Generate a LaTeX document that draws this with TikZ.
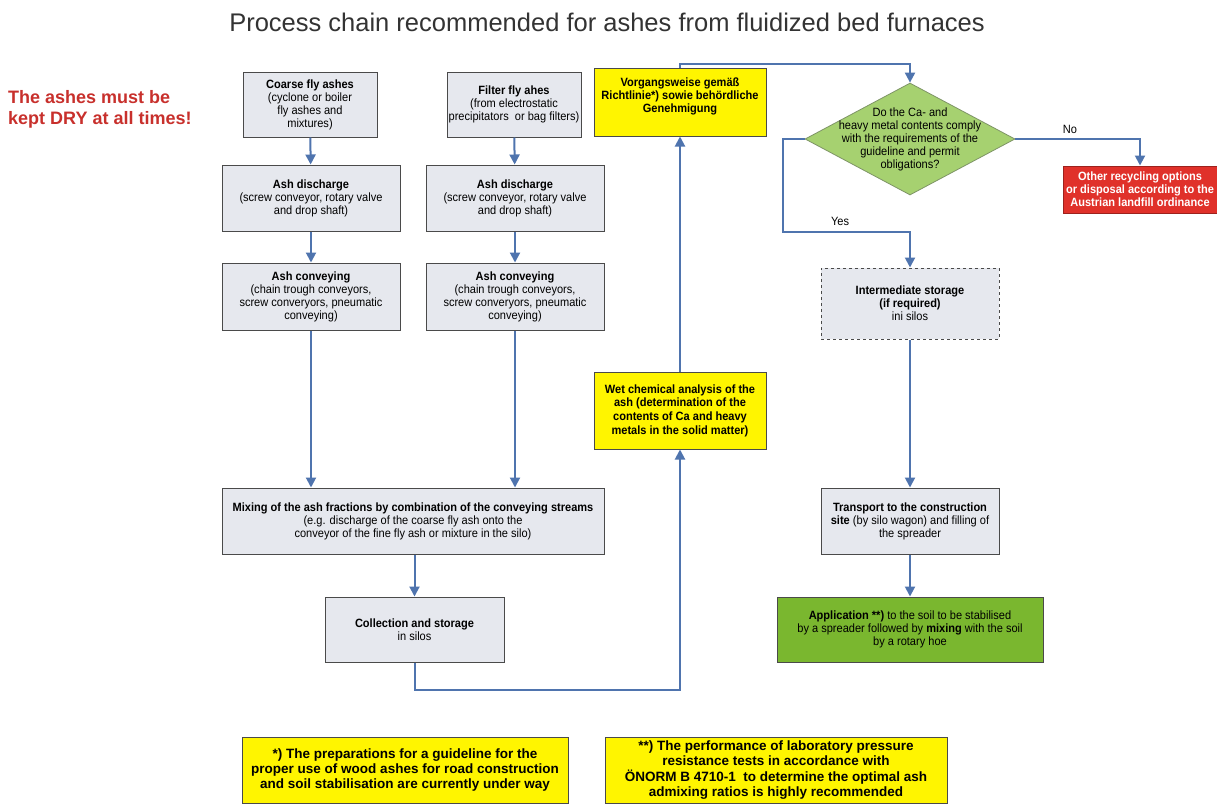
\documentclass[tikz,border=0pt]{standalone}
\usepackage{fontspec}
\setmainfont{Liberation Sans}
\newfontfamily\nar[FakeStretch=0.92]{Liberation Sans}
\usetikzlibrary{arrows.meta,shapes.geometric}
\definecolor{boxfill}{HTML}{E6E8EE}
\definecolor{boxline}{HTML}{4A4A4A}
\definecolor{arrowc}{HTML}{4F74AE}
\definecolor{yel}{HTML}{FFF500}
\definecolor{diag}{HTML}{A6D170}
\definecolor{diaglinec}{HTML}{7E9466}
\definecolor{redbox}{HTML}{E0312A}
\definecolor{redtxt}{HTML}{C8302C}
\definecolor{grnbox}{HTML}{7AB72F}
\definecolor{titlec}{HTML}{333333}
\tikzset{
  procbox/.style={draw=boxline, line width=1pt, fill=boxfill, inner sep=1pt, align=center,
    font=\nar\fontsize{12}{13}\selectfont, text=black},
  yelbox/.style={procbox, fill=yel, draw=boxline},
  arr/.style={draw=arrowc, line width=2pt, -{Triangle[width=10pt,length=10pt]}},
  lbl/.style={font=\nar\fontsize{12}{13}\selectfont, text=black},
  footbox/.style={yelbox, font=\bfseries\fontsize{13.5}{15.2}\selectfont, minimum height=66pt}
}
\begin{document}
\begin{tikzpicture}[x=1pt,y=-1pt]
\useasboundingbox[fill=white] (0,0) rectangle (1217,811);
% title
\node[font=\fontsize{25.5}{29}\selectfont, text=titlec] (title) at (607,22) {Process chain recommended for ashes from fluidized bed furnaces};
% warning
\node[font=\bfseries\fontsize{18}{21}\selectfont, text=redtxt, align=left, anchor=north west, inner sep=0pt] (warn) at (8,90) {The ashes must be\\kept DRY at all times!};
% left column
\node[procbox, minimum width=134pt, minimum height=65pt] (coarse) at (310,104.5) {\textbf{Coarse fly ashes}\\(cyclone or boiler\\fly ashes and\\mixtures)};
\node[procbox, minimum width=134pt, minimum height=65pt] (filter) at (514,104.5) {\textbf{Filter fly ahes}\\(from electrostatic\\precipitators\ \ or bag filters)};
\node[procbox, minimum width=178pt, minimum height=66pt] (dis1) at (311,198) {\textbf{Ash discharge}\\(screw conveyor, rotary valve\\and drop shaft)};
\node[procbox, minimum width=178pt, minimum height=66pt] (dis2) at (515,198) {\textbf{Ash discharge}\\(screw conveyor, rotary valve\\and drop shaft)};
\node[procbox, minimum width=178pt, minimum height=67pt] (con1) at (311,296.5) {\textbf{Ash conveying}\\(chain trough conveyors,\\screw converyors, pneumatic\\conveying)};
\node[procbox, minimum width=178pt, minimum height=67pt] (con2) at (515,296.5) {\textbf{Ash conveying}\\(chain trough conveyors,\\screw converyors, pneumatic\\conveying)};
\node[procbox, minimum width=382pt, minimum height=66pt] (mix) at (413,521) {\textbf{Mixing of the ash fractions by combination of the conveying streams}\\(e.g. discharge of the coarse fly ash onto the\\conveyor of the fine fly ash or mixture in the silo)};
\node[procbox, minimum width=179pt, minimum height=65pt] (coll) at (414.5,629.5) {\textbf{Collection and storage}\\in silos};
% middle column
\node[yelbox, font=\nar\fontsize{12}{13.7}\selectfont, minimum width=172pt, minimum height=77pt] (wet) at (680,410.5) {\textbf{Wet chemical analysis of the}\\\textbf{ash (determination of the}\\\textbf{contents of Ca and heavy}\\\textbf{metals in the solid matter)}};
\node[yelbox, minimum width=172pt, minimum height=68pt, text depth=13pt] (vorg) at (680,102) {\textbf{Vorgangsweise gemäß}\\\textbf{Richtlinie*) sowie behördliche}\\\textbf{Genehmigung}};
% right column
\node[diamond, draw=diaglinec, line width=0.8pt, fill=diag, minimum width=210pt, minimum height=112pt, inner sep=0pt] (dia) at (910,139) {};
\node[lbl, align=center] (diatext) at (910,139) {Do the Ca- and\\heavy metal contents comply\\with the requirements of the\\guideline and permit\\obligations?};
\node[procbox, fill=redbox, draw=redbox!70!black, text=white, minimum width=154pt, minimum height=47pt, inner sep=0pt] (red) at (1140,189.5) {\textbf{Other recycling options}\\\textbf{or disposal according to the}\\\textbf{Austrian landfill ordinance}};
\node[procbox, dashed, minimum width=178pt, minimum height=71pt] (inter) at (910,303.5) {\textbf{Intermediate storage}\\\textbf{(if required)}\\ini silos};
\node[procbox, minimum width=178pt, minimum height=66pt] (trans) at (910,521) {\textbf{Transport to the construction}\\\textbf{site} (by silo wagon) and filling of\\the spreader};
\node[procbox, fill=grnbox, draw=boxline, minimum width=266pt, minimum height=65pt] (app) at (910,629.5) {\textbf{Application **)} to the soil to be stabilised\\by a spreader followed by \textbf{mixing} with the soil\\by a rotary hoe};
% footnotes
\node[footbox, minimum width=326pt] (fn1) at (405,770) {*) The preparations for a guideline for the\\proper use of wood ashes for road construction\\and soil stabilisation are currently under way};
\node[footbox, minimum width=342pt] (fn2) at (776,770) {**) The performance of laboratory pressure\\resistance tests in accordance with\\ÖNORM B 4710-1\ \ to determine the optimal ash\\admixing ratios is highly recommended};
% connectors
\draw[arr] (coarse) -- (dis1);
\draw[arr] (dis1) -- (con1);
\draw[arr] (con1.south) -- (con1.south |- mix.north);
\draw[arr] (filter) -- (dis2);
\draw[arr] (dis2) -- (con2);
\draw[arr] (con2.south) -- (con2.south |- mix.north);
\draw[arr] (mix.south -| coll.north) -- (coll.north);
\coordinate (bl) at (414.5,690);
\draw[arr] (coll.south) -- (bl) -| (wet.south);
\draw[arr] (wet.north) -- (vorg.south);
\coordinate (tl) at (680,64);
\draw[arr] (vorg.north) -- (tl) -| (dia.north);
\draw[arr] (dia.east) -| (red.north);
\node[lbl, anchor=south] (no) at (1070,137) {No};
\coordinate (yc) at (783,232);
\draw[arr] (dia.west) -| (yc) -| (inter.north);
\node[lbl, anchor=south] (yes) at (840,229) {Yes};
\draw[arr] (inter) -- (trans);
\draw[arr] (trans) -- (app);
\end{tikzpicture}
\end{document}
